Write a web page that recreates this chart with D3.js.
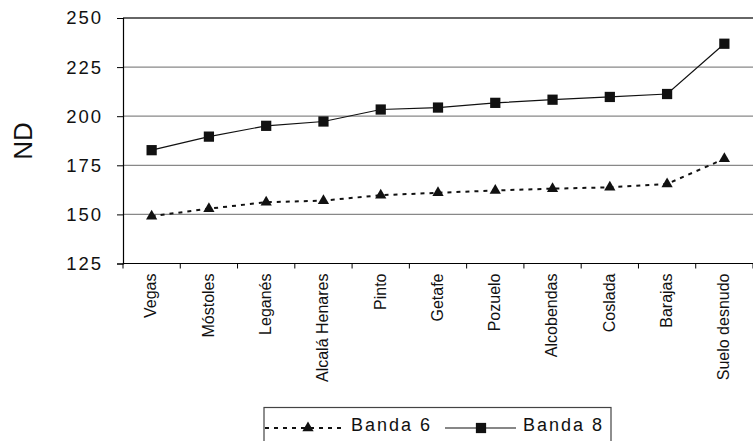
<!DOCTYPE html>
<meta charset="utf-8">
<style>
  body { margin: 0; background: #fff; }
  svg text { font-family: "Liberation Sans", Arial, sans-serif; fill: #111; }
</style>
<body>
<div id="chart"></div>
<script src="https://d3js.org/d3.v7.min.js"></script>
<script>
  var categories = ["Vegas", "Móstoles", "Leganés", "Alcalá Henares", "Pinto", "Getafe",
                    "Pozuelo", "Alcobendas", "Coslada", "Barajas", "Suelo desnudo"];
  var banda6 = [149.1, 152.9, 156.2, 157.0, 159.8, 161.0, 162.2, 163.1, 163.8, 165.5, 178.3];
  var banda8 = [182.7, 189.6, 195.1, 197.3, 203.4, 204.4, 206.8, 208.4, 209.8, 211.3, 236.9];
  var yTicks = [125, 150, 175, 200, 225, 250];

  var width = 753, height = 441;
  var plotLeft = 123, plotRight = 753, plotTop = 18, plotBottom = 263.5;

  var svg = d3.select("#chart").append("svg")
    .attr("width", width)
    .attr("height", height);

  var x = d3.scaleBand().domain(categories).range([plotLeft, plotRight]);
  var y = d3.scaleLinear().domain([125, 250]).range([plotBottom, plotTop]);

  // grid lines
  svg.append("g").selectAll("line")
    .data(yTicks.filter(function(d) { return d > 125; }))
    .enter().append("line")
    .attr("x1", plotLeft).attr("x2", plotRight)
    .attr("y1", function(d) { return y(d); })
    .attr("y2", function(d) { return y(d); })
    .attr("stroke", function(d) { return d === 250 ? "#333" : "#888"; })
    .attr("stroke-width", 1.3);

  // y axis
  var yAxis = svg.append("g")
    .attr("transform", "translate(" + plotLeft + ",0)")
    .call(d3.axisLeft(y).tickValues(yTicks).tickSize(6).tickPadding(14));
  yAxis.select(".domain").attr("stroke", "#000").attr("stroke-width", 1.2);
  yAxis.selectAll(".tick line").attr("stroke", "#000");
  yAxis.selectAll(".tick text")
    .style("font-size", "18.5px")
    .style("letter-spacing", "2px")
    .style("font-family", "'Liberation Sans', Arial, sans-serif")
    .attr("fill", "#111");

  // x axis
  var xg = svg.append("g");
  xg.append("line")
    .attr("x1", plotLeft).attr("x2", plotRight)
    .attr("y1", plotBottom).attr("y2", plotBottom)
    .attr("stroke", "#000").attr("stroke-width", 1.2);
  var bounds = categories.map(function(c) { return x(c); }).concat([plotRight]);
  xg.selectAll("line.tk")
    .data(bounds)
    .enter().append("line")
    .attr("class", "tk")
    .attr("x1", function(d) { return d; }).attr("x2", function(d) { return d; })
    .attr("y1", plotBottom).attr("y2", plotBottom + 5)
    .attr("stroke", "#000");
  xg.selectAll("text")
    .data(categories)
    .enter().append("text")
    .attr("transform", function(d) {
      return "translate(" + (x(d) + x.bandwidth() / 2) + "," + (plotBottom + 10) + ") rotate(-90)";
    })
    .attr("dy", "0.3em")
    .attr("text-anchor", "end")
    .style("font-size", "16px")
    .text(function(d) { return d; });

  // y label
  svg.append("text")
    .attr("transform", "translate(32,141) rotate(-90)")
    .attr("text-anchor", "middle")
    .style("font-size", "26px")
    .text("ND");

  function cx(i) { return x(categories[i]) + x.bandwidth() / 2; }

  var line = d3.line()
    .x(function(d, i) { return cx(i); })
    .y(function(d) { return y(d); });

  // Banda 6
  svg.append("path")
    .datum(banda6)
    .attr("d", line)
    .attr("fill", "none")
    .attr("stroke", "#111")
    .attr("stroke-width", 2)
    .attr("stroke-dasharray", "4,5");

  // Banda 8
  svg.append("path")
    .datum(banda8)
    .attr("d", line)
    .attr("fill", "none")
    .attr("stroke", "#111")
    .attr("stroke-width", 1.2);

  var tri = d3.symbol().type(d3.symbolTriangle).size(55);
  var sq = d3.symbol().type(d3.symbolSquare).size(105);

  svg.append("g").selectAll("path")
    .data(banda6)
    .enter().append("path")
    .attr("d", tri)
    .attr("transform", function(d, i) { return "translate(" + cx(i) + "," + y(d) + ")"; })
    .attr("fill", "#111");

  svg.append("g").selectAll("path")
    .data(banda8)
    .enter().append("path")
    .attr("d", sq)
    .attr("transform", function(d, i) { return "translate(" + cx(i) + "," + y(d) + ")"; })
    .attr("fill", "#111");

  // legend
  var lg = svg.append("g");
  lg.append("rect")
    .attr("x", 264).attr("y", 407.5)
    .attr("width", 347).attr("height", 50)
    .attr("fill", "none")
    .attr("stroke", "#444")
    .attr("stroke-width", 1.2);
  var ly = 428;
  lg.append("line")
    .attr("x1", 265).attr("x2", 341).attr("y1", ly).attr("y2", ly)
    .attr("stroke", "#111").attr("stroke-width", 2).attr("stroke-dasharray", "4,5");
  lg.append("path").attr("d", tri).attr("transform", "translate(308," + ly + ")").attr("fill", "#111");
  lg.append("text").attr("x", 351).attr("y", 431)
    .style("font-size", "18px").style("letter-spacing", "2px").text("Banda 6");
  lg.append("line")
    .attr("x1", 445).attr("x2", 516).attr("y1", ly).attr("y2", ly)
    .attr("stroke", "#111").attr("stroke-width", 1.2);
  lg.append("path").attr("d", sq).attr("transform", "translate(481," + ly + ")").attr("fill", "#111");
  lg.append("text").attr("x", 523).attr("y", 431)
    .style("font-size", "18px").style("letter-spacing", "2px").text("Banda 8");
</script>
</body>
</html>
